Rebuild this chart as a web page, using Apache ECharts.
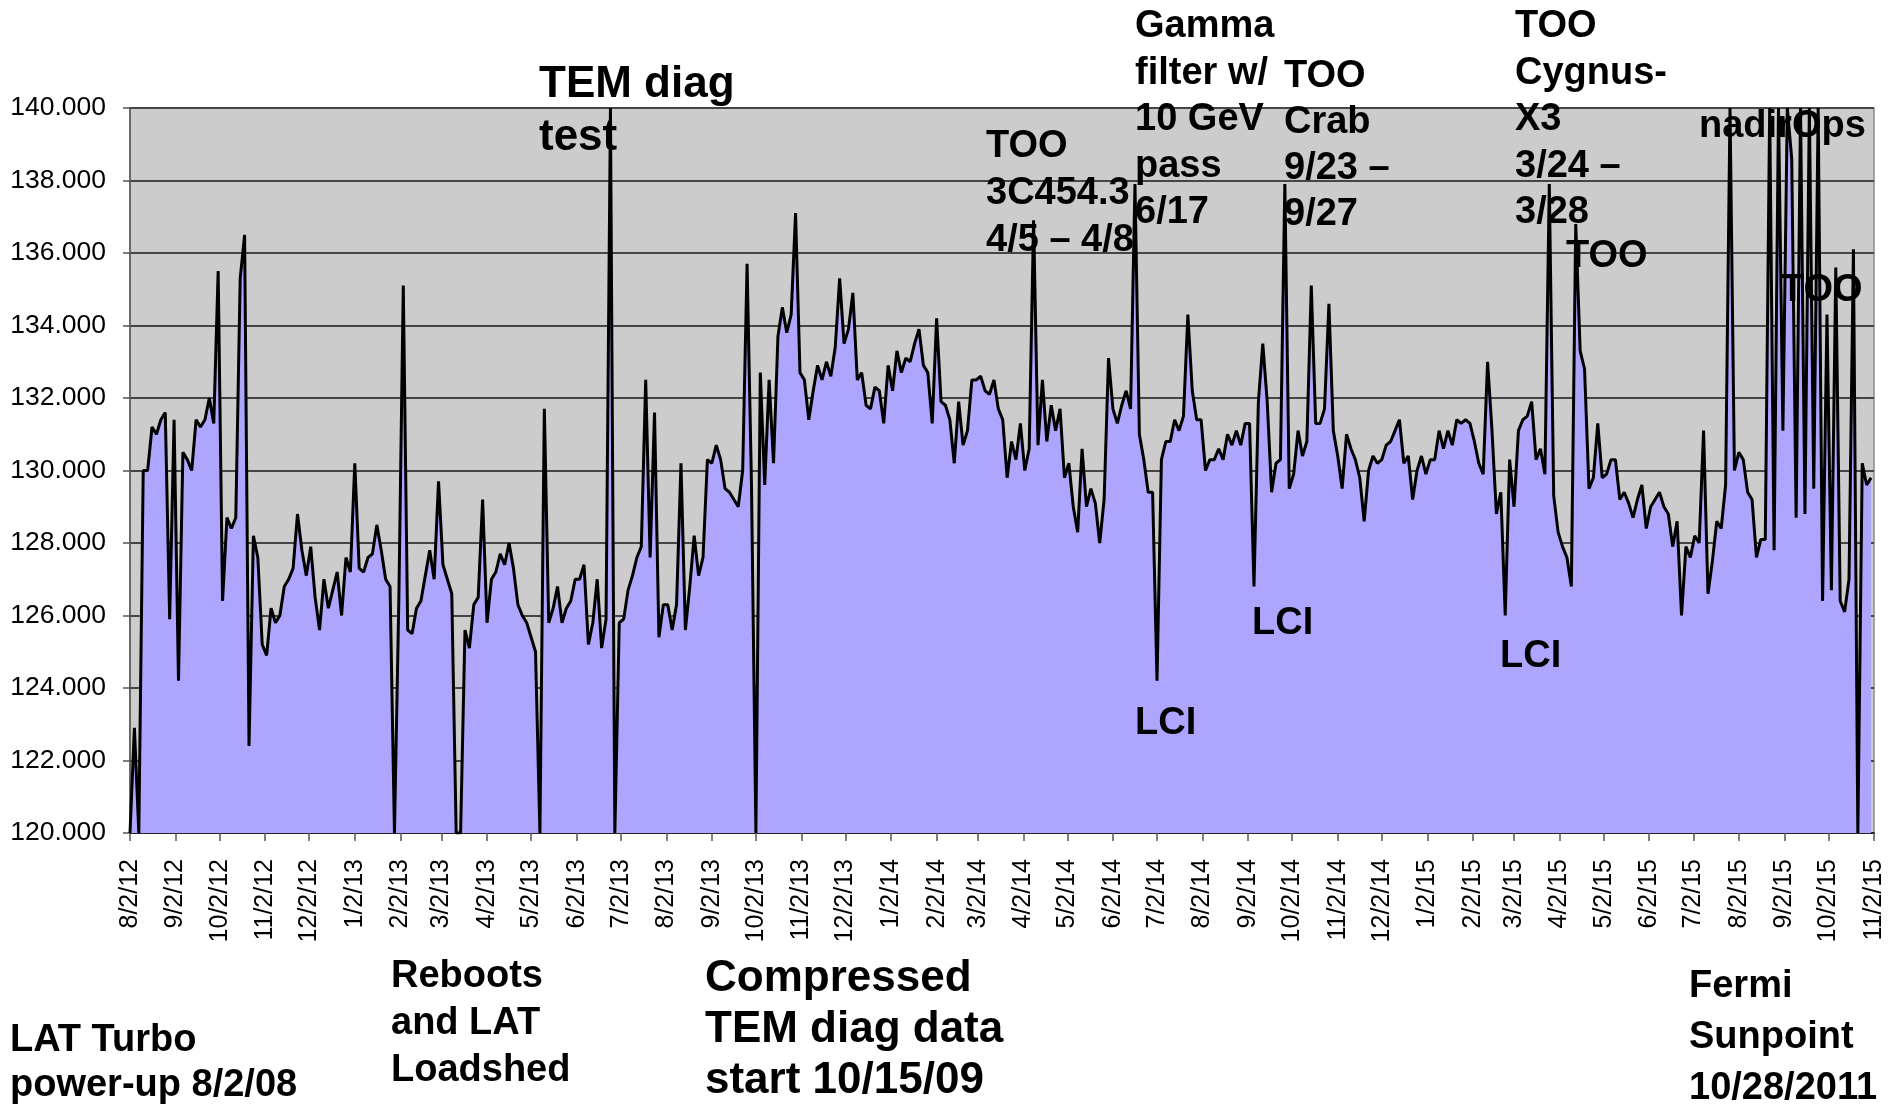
<!DOCTYPE html>
<html>
<head>
<meta charset="utf-8">
<title>LAT Turbo</title>
<script src="https://cdn.jsdelivr.net/npm/echarts@6/dist/echarts.min.js"></script>
<style>
    html, body { margin: 0; padding: 0; background: #fff; }
    #chart { width: 1904px; height: 1108px; }
</style>
</head>
<body>
<div id="chart"></div>
<script>
// one reading every 3 days, starting 8/2/12
var startLabel = '8/2/12';
var stepDays = 3;

// Aug 2012 - Jun 2013
var values2012 = [
    120, 122.9, 120, 130.0, 130.0, 131.2, 131.0, 131.4, 131.6, 125.9,
    131.4, 124.2, 130.5, 130.3, 130.0, 131.4, 131.2, 131.4, 132.0, 131.3,
    135.5, 126.4, 128.7, 128.4, 128.7, 135.3, 136.5, 122.4, 128.2, 127.6,
    125.2, 124.9, 126.2, 125.8, 126.0, 126.8, 127.0, 127.3, 128.8, 127.8,
    127.1, 127.9, 126.5, 125.6, 127.0, 126.2, 126.7, 127.2, 126.0, 127.6,
    127.2, 130.2, 127.3, 127.2, 127.6, 127.7, 128.5, 127.8, 127.0, 126.8,
    120.0, 126.5, 135.1, 125.6, 125.5, 126.2, 126.4, 127.1, 127.8, 127.0,
    129.7, 127.4, 127.0, 126.6, 120.0, 120.0, 125.6, 125.1, 126.3, 126.5,
    129.2, 125.8, 127.0, 127.2, 127.7, 127.4, 128.0, 127.3, 126.3, 126.0,
    125.8, 125.4, 125.0, 120.0, 131.7, 125.8, 126.2, 126.8, 125.8, 126.2
];
// Jul 2013 - Jun 2014
var values2013 = [
    126.4, 127.0, 127.0, 127.4, 125.2, 125.8, 127.0, 125.1, 125.9, 140,
    120, 125.8, 125.9, 126.7, 127.1, 127.6, 127.9, 132.5, 127.6, 131.6,
    125.4, 126.3, 126.3, 125.6, 126.3, 130.2, 125.6, 126.8, 128.2, 127.1,
    127.6, 130.3, 130.2, 130.7, 130.3, 129.5, 129.4, 129.2, 129.0, 130.0,
    135.7, 129.6, 120, 132.7, 129.6, 132.5, 130.2, 133.7, 134.5, 133.8,
    134.3, 137.1, 132.7, 132.5, 131.4, 132.2, 132.9, 132.5, 133.0, 132.6,
    133.4, 135.3, 133.5, 133.9, 134.9, 132.5, 132.7, 131.8, 131.7, 132.3,
    132.2, 131.3, 132.9, 132.2, 133.3, 132.7, 133.1, 133.0, 133.5, 133.9,
    132.9, 132.7, 131.3, 134.2, 131.9, 131.8, 131.4, 130.2, 131.9, 130.7,
    131.1, 132.5, 132.5, 132.6, 132.2, 132.1, 132.5, 131.7, 131.4, 129.8,
    130.8, 130.3, 131.3, 130.0, 130.6, 136.9, 130.7, 132.5, 130.8, 131.8,
    131.1, 131.7, 129.8, 130.2, 129.0, 128.3, 130.6, 129.0, 129.5, 129.1
];
// Jun 2014 - Apr 2015
var values2014 = [
    128.0, 129.2, 133.1, 131.7, 131.3, 131.8, 132.2, 131.7, 137.9, 131.0,
    130.3, 129.4, 129.4, 124.2, 130.3, 130.8, 130.8, 131.4, 131.1, 131.5,
    134.3, 132.2, 131.4, 131.4, 130.0, 130.3, 130.3, 130.6, 130.3, 131.0,
    130.7, 131.1, 130.7, 131.3, 131.3, 126.8, 131.9, 133.5, 131.9, 129.4,
    130.2, 130.3, 137.9, 129.5, 129.9, 131.1, 130.4, 130.8, 135.1, 131.3,
    131.3, 131.7, 134.6, 131.1, 130.4, 129.5, 131.0, 130.6, 130.3, 129.8,
    128.6, 130.0, 130.4, 130.2, 130.3, 130.7, 130.8, 131.1, 131.4, 130.2,
    130.4, 129.2, 130.0, 130.4, 129.9, 130.3, 130.3, 131.1, 130.6, 131.1,
    130.7, 131.4, 131.3, 131.4, 131.3, 130.8, 130.2, 129.9, 133.0, 131.1,
    128.8, 129.4, 126.0, 130.3, 129.0, 131.1, 131.4, 131.5, 131.9, 130.3,
    130.6, 129.9, 137.9, 129.3, 128.3, 127.9, 127.6, 126.8
];
// Apr 2015 - Nov 2015
var values2015 = [
    136.8, 133.3, 132.8, 129.5, 129.8, 131.3, 129.8, 129.9, 130.3, 130.3,
    129.2, 129.4, 129.1, 128.7, 129.2, 129.6, 128.4, 129.0, 129.2, 129.4,
    129.0, 128.8, 127.9, 128.6, 126.0, 127.9, 127.6, 128.2, 128.0, 131.1,
    126.6, 127.5, 128.6, 128.4, 129.6, 140, 130.0, 130.5, 130.3, 129.4,
    129.2, 127.6, 128.1, 128.1, 140, 127.8, 140, 131.1, 140, 138.6,
    128.7, 140, 128.8, 140, 129.5, 140, 126.4, 134.3, 126.7, 135.6,
    126.4, 126.1, 127.0, 136.1, 120, 130.2, 129.6, 129.8
];

var tickLabels = [
    '8/2/12', '9/2/12', '10/2/12', '11/2/12', '12/2/12',
    '1/2/13', '2/2/13', '3/2/13', '4/2/13', '5/2/13', '6/2/13', '7/2/13',
    '8/2/13', '9/2/13', '10/2/13', '11/2/13', '12/2/13',
    '1/2/14', '2/2/14', '3/2/14', '4/2/14', '5/2/14', '6/2/14', '7/2/14',
    '8/2/14', '9/2/14', '10/2/14', '11/2/14', '12/2/14',
    '1/2/15', '2/2/15', '3/2/15', '4/2/15', '5/2/15', '6/2/15', '7/2/15',
    '8/2/15', '9/2/15', '10/2/15', '11/2/15'
];

// text boxes on the slide: x, y of first line centre, line step, font size
var notes = [
    { x: 539, y: 85, step: 53, size: 44, lines: ['TEM diag', 'test'] },
    { x: 986, y: 147, step: 47, size: 38, lines: ['TOO', '3C454.3', '4/5 \u2013 4/8'] },
    { x: 1135, y: 27, step: 46.5, size: 38, lines: ['Gamma', 'filter w/', '10 GeV', 'pass', '6/17'] },
    { x: 1284, y: 77, step: 46, size: 38, lines: ['TOO', 'Crab', '9/23 \u2013', '9/27'] },
    { x: 1515, y: 27, step: 46.5, size: 38, lines: ['TOO', 'Cygnus-', 'X3', '3/24 \u2013', '3/28'] },
    { x: 1566, y: 257, step: 46, size: 38, lines: ['TOO'] },
    { x: 1699, y: 127, step: 46, size: 38, lines: ['nadirOps'] },
    { x: 1781, y: 291, step: 46, size: 38, lines: ['TOO'] },
    { x: 1135, y: 724, step: 46, size: 38, lines: ['LCI'] },
    { x: 1252, y: 624, step: 46, size: 38, lines: ['LCI'] },
    { x: 1500, y: 657, step: 46, size: 38, lines: ['LCI'] },
    { x: 391, y: 977, step: 47, size: 38, lines: ['Reboots', 'and LAT', 'Loadshed'] },
    { x: 705, y: 979, step: 51, size: 44, lines: ['Compressed', 'TEM diag data', 'start 10/15/09'] },
    { x: 10, y: 1041, step: 45, size: 38, lines: ['LAT Turbo', 'power-up 8/2/08'] },
    { x: 1689, y: 987, step: 51, size: 38, lines: ['Fermi', 'Sunpoint', '10/28/2011'] }
];

function parseLabel(s) {
    var p = s.split('/');
    return Date.UTC(2000 + Number(p[2]), Number(p[0]) - 1, Number(p[1]));
}

// x axis is counted in days from the first label
var t0 = parseLabel(startLabel);
var dayMs = 86400000;
var tickDays = tickLabels.map(function (s) {
    return Math.round((parseLabel(s) - t0) / dayMs);
});

var values = values2012.concat(values2013, values2014, values2015);
var seriesData = values.map(function (v, i) { return [i * stepDays, v]; });

function fmtDay(v) {
    var d = new Date(t0 + v * dayMs);
    return (d.getUTCMonth() + 1) + '/' + d.getUTCDate() + '/' + String(d.getUTCFullYear()).slice(2);
}

var graphics = [];
notes.forEach(function (n) {
    n.lines.forEach(function (txt, k) {
        graphics.push({
            type: 'text',
            x: n.x,
            y: n.y + k * n.step,
            z: 100,
            style: {
                text: txt,
                fill: '#000',
                font: 'bold ' + n.size + 'px "Liberation Sans", Arial, sans-serif',
                textAlign: 'left',
                textVerticalAlign: 'middle'
            }
        });
    });
});

var chart = echarts.init(document.getElementById('chart'));
var option = {
    backgroundColor: '#fff',
    animation: false,
    grid: {
        left: 130,
        right: 30,
        top: 108,
        bottom: 275,
        show: true,
        backgroundColor: '#cccccc',
        borderColor: '#8a8a8a',
        borderWidth: 1.5
    },
    xAxis: {
        type: 'value',
        min: 0,
        max: tickDays[tickDays.length - 1],
        axisLine: { show: true, lineStyle: { color: '#222', width: 2 } },
        axisTick: {
            show: true,
            length: 8,
            customValues: tickDays,
            lineStyle: { color: '#555', width: 1.5 }
        },
        axisLabel: {
            customValues: tickDays,
            rotate: 90,
            margin: 26,
            fontSize: 25,
            color: '#000',
            fontFamily: '"Liberation Sans", Arial, sans-serif',
            formatter: fmtDay
        },
        splitLine: { show: false }
    },
    yAxis: {
        type: 'value',
        min: 120,
        max: 140,
        interval: 2,
        axisLine: { show: true, lineStyle: { color: '#555', width: 1.5 } },
        axisTick: { show: true, length: 7, lineStyle: { color: '#555', width: 1.5 } },
        axisLabel: {
            margin: 24,
            fontSize: 26.5,
            color: '#000',
            fontFamily: '"Liberation Sans", Arial, sans-serif',
            formatter: function (v) { return v.toFixed(3); }
        },
        splitLine: { show: true, lineStyle: { color: '#454545', width: 2 } }
    },
    series: [
        {
            name: 'LAT',
            type: 'line',
            data: seriesData,
            symbol: 'none',
            smooth: false,
            clip: true,
            lineStyle: { color: '#000', width: 3 },
            areaStyle: { color: '#aea5ff', opacity: 1, origin: 'start' },
            z: 3
        }
    ],
    graphic: graphics
};
chart.setOption(option);
</script>
</body>
</html>
